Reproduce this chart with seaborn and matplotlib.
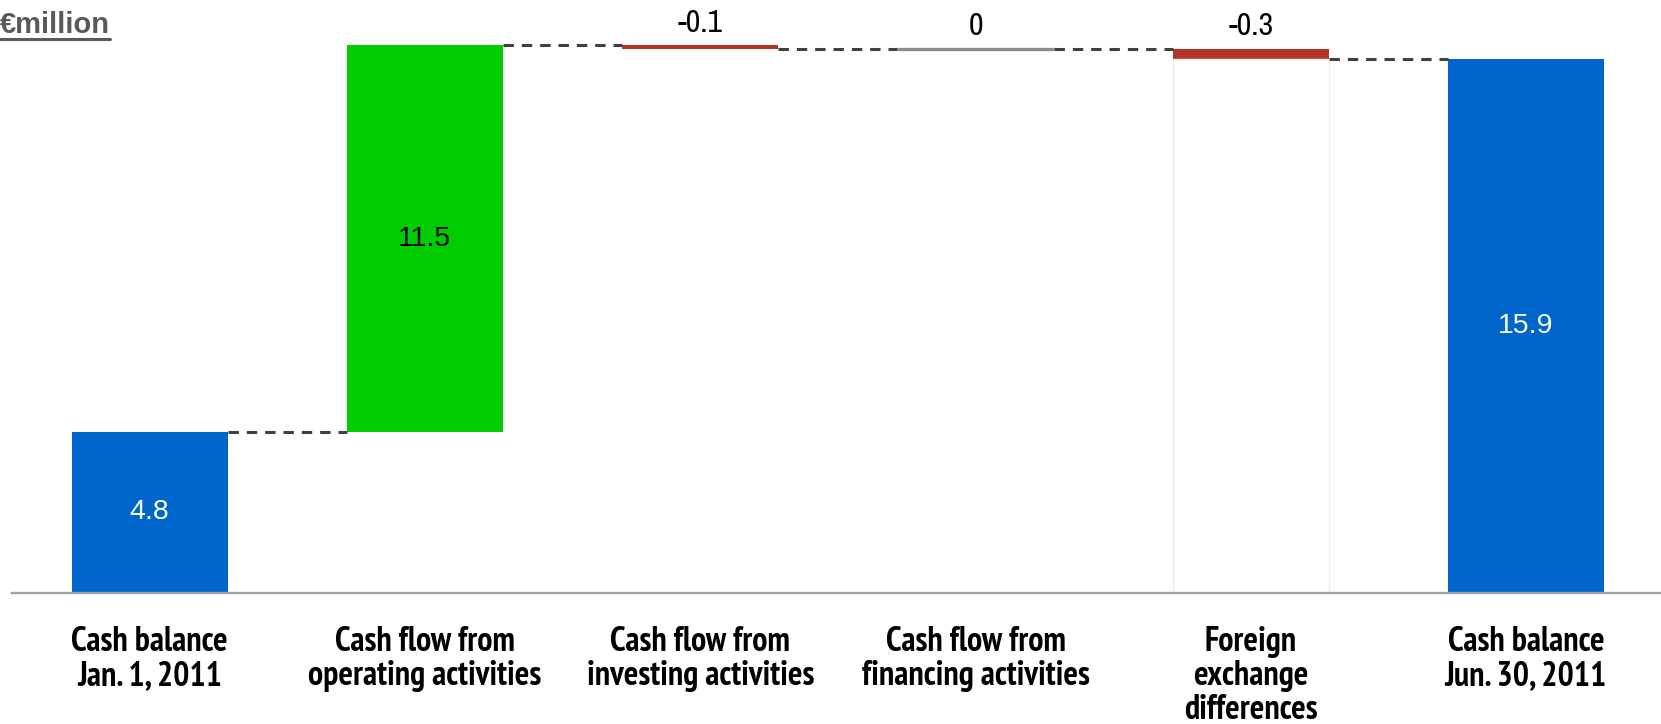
import numpy as np
import pandas as pd
import matplotlib
matplotlib.use("Agg")
import matplotlib.pyplot as plt
from matplotlib import font_manager
from matplotlib.font_manager import FontProperties
from matplotlib.lines import Line2D
import seaborn as sns

# ---- data ----
categories = [
    "Cash balance\nJan. 1, 2011",
    "Cash flow from\noperating activities",
    "Cash flow from\ninvesting activities",
    "Cash flow from\nfinancing activities",
    "Foreign\nexchange\ndifferences",
    "Cash balance\nJun. 30, 2011",
]
values = [4.8, 11.5, -0.1, 0.0, -0.3, 15.9]
kinds = ["total", "delta", "delta", "delta", "delta", "total"]
value_labels = ["4.8", "11.5", "-0.1", "0", "-0.3", "15.9"]
unit_label = "€million"

# ---- colours / fonts ----
BLUE = "#0066CC"
GREEN = "#00CC00"
RED = "#B43428"
ZERO = "#8C8C8C"
DASH = "#404040"

sns.set_theme(style="white")
fonts = font_manager.fontManager.ttflist
avail = {f.name for f in fonts}
regular = "Liberation Sans" if "Liberation Sans" in avail else "DejaVu Sans"
plt.rcParams["font.family"] = [regular, "DejaVu Sans"]


def find_condensed(bold):
    cands = []
    for f in fonts:
        fn = f.fname.lower()
        isb = (f.weight in ("bold", 700) or "bold" in fn)
        if isb != bold:
            continue
        if "italic" in fn or "oblique" in fn:
            continue
        if "narrow" in f.name.lower() or "narrow" in fn:
            cands.append((0, f.fname))
        elif "condensed" in fn or f.stretch in ("condensed", "semi-condensed"):
            cands.append((1, f.fname))
    cands.sort()
    return cands[0][1] if cands else None


cb = find_condensed(True)
cr = find_condensed(False)
if cb:
    tick_fp = FontProperties(fname=cb, size=24.5)
else:
    tick_fp = FontProperties(family="Roboto", weight="bold", size=19.5)
if cr:
    top_fp = FontProperties(fname=cr, size=23)
else:
    top_fp = FontProperties(family="Roboto", size=19.5)

# ---- waterfall geometry from data ----
tops, bases, colors = [], [], []
running = 0.0
for v, k in zip(values, kinds):
    if k == "total":
        running = v
        tops.append(v); bases.append(0.0); colors.append(BLUE)
    else:
        new = running + v
        tops.append(max(running, new)); bases.append(min(running, new))
        colors.append(GREEN if v > 0 else (RED if v < 0 else ZERO))
        running = new
levels = []
running = 0.0
for v, k in zip(values, kinds):
    running = v if k == "total" else running + v
    levels.append(running)

df = pd.DataFrame({"cat": categories, "top": tops, "base": bases})

W, H = 1661, 724
fig = plt.figure(figsize=(W / 100, H / 100), dpi=100)
ax = fig.add_axes([12 / W, 131 / H, (W - 12) / W, 593 / H])

BW = 0.567
sns.barplot(data=df, x="cat", y="top", hue="cat", palette=colors, dodge=False,
            width=BW, saturation=1, legend=False, linewidth=0, ax=ax)
sns.barplot(data=df, x="cat", y="base", color="white", width=BW,
            saturation=1, linewidth=0, ax=ax)
base_bars = ax.containers[-1]
for i, k in enumerate(kinds):
    if k == "delta" and values[i] < 0 and bases[i] > 0 and abs(values[i]) > 0.2:
        base_bars[i].set_edgecolor("#EDEDED")
        base_bars[i].set_linewidth(1)

# zero-value deltas drawn as a thin grey line
for i, v in enumerate(values):
    if kinds[i] == "delta" and v == 0:
        ax.hlines(levels[i], i - BW / 2, i + BW / 2, color=ZERO, lw=2.4, zorder=3)

# dashed connectors
for i in range(len(values) - 1):
    ax.plot([i + BW / 2, i + 1 - BW / 2], [levels[i], levels[i]], color=DASH,
            lw=2.2, dashes=(3.4, 2.6), zorder=3)

# value labels
for i, (v, k) in enumerate(zip(values, kinds)):
    if k == "total" or v > 1:
        mid = (tops[i] + bases[i]) / 2
        ax.text(i, mid, value_labels[i], ha="center", va="center",
                fontsize=20.5, family=regular,
                color="white" if k == "total" else "black")
    else:
        ax.annotate(value_labels[i], (i, tops[i]), xytext=(0, 6),
                    textcoords="offset points", ha="center", va="bottom",
                    fontproperties=top_fp, color="black")

ax.set_xlim(-0.5, 5.49)
ax.set_ylim(0, 17.65)
ax.set_xlabel("")
ax.set_ylabel("")
ax.set_yticks([])
ax.set_xticks(range(len(categories)))
ax.set_xticklabels(categories, fontproperties=tick_fp, fontweight="bold",
                   linespacing=1.08, color="black")
ax.tick_params(axis="x", length=0, pad=24)
for s in ["left", "top", "right"]:
    ax.spines[s].set_visible(False)
ax.spines["bottom"].set_color("#A0A0A0")
ax.spines["bottom"].set_linewidth(1.7)
ax.patch.set_alpha(0)

# unit label, underlined
t = fig.text(0.0, 1 - 33 / H, unit_label, ha="left", va="baseline",
             fontsize=21, fontweight="bold", color="#595959", family=regular)
fig.canvas.draw()
bb = t.get_window_extent()
uy = (H - 39) / H
fig.add_artist(Line2D([bb.x0 / W, bb.x1 / W], [uy, uy], color="#595959",
                      lw=2.2, transform=fig.transFigure))

fig.savefig("out.png", dpi=100, facecolor="white")
